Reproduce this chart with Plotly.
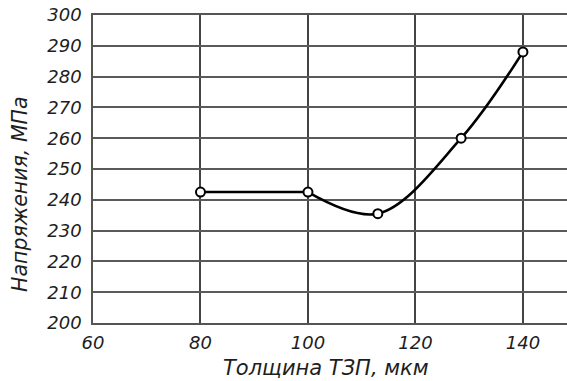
import plotly.graph_objects as go

# Coating thickness (µm) and measured stress (MPa)
thickness = [80, 100, 113, 128.5, 140]
stress = [242.5, 242.5, 235.5, 260, 288]

x_ticks = [60, 80, 100, 120, 140]
y_ticks = [200, 210, 220, 230, 240, 250, 260, 270, 280, 290, 300]

font_family = "DejaVu Sans, sans-serif"
text_color = "#1e1e1e"

fig = go.Figure()

# flat segment between the first two points
fig.add_trace(go.Scatter(
    x=thickness[:2], y=stress[:2], mode="lines",
    line=dict(color="black", width=2.5), hoverinfo="skip", showlegend=False,
))
# smooth curve through the remaining points
fig.add_trace(go.Scatter(
    x=thickness[1:], y=stress[1:], mode="lines",
    line=dict(color="black", width=2.5, shape="spline", smoothing=1),
    hoverinfo="skip", showlegend=False,
))
# measurement points
fig.add_trace(go.Scatter(
    x=thickness, y=stress, mode="markers",
    marker=dict(symbol="circle", size=9, color="white",
                line=dict(color="black", width=2)),
    showlegend=False,
))

fig.update_layout(
    width=567, height=381,
    margin=dict(l=93, r=0, t=15, b=58),
    paper_bgcolor="white", plot_bgcolor="white",
    font=dict(family=font_family, color=text_color),
    xaxis=dict(
        range=[60, 148.2], tickvals=x_ticks, ticktext=[str(v) for v in x_ticks],
        showgrid=True, gridcolor="#444", gridwidth=1.5,
        showline=True, linecolor="#555", linewidth=1.5, mirror=True,
        ticks="", zeroline=False,
        tickfont=dict(family=font_family, size=18, style="italic", color=text_color),
        ticklabelstandoff=3,
    ),
    yaxis=dict(
        range=[200, 300], tickvals=y_ticks, ticktext=[str(v) for v in y_ticks],
        showgrid=True, gridcolor="#5a5a5a", gridwidth=2,
        showline=True, linecolor="#555", linewidth=1.5,
        ticks="", zeroline=False,
        tickfont=dict(family=font_family, size=18, style="italic", color=text_color),
        ticklabelstandoff=6,
    ),
    annotations=[
        dict(text="Толщина ТЗП, мкм", xref="paper", yref="paper",
             x=(326 - 93) / 474, y=-(368 - 323) / 308,
             showarrow=False, xanchor="center", yanchor="middle",
             font=dict(family=font_family, size=21, style="italic", color=text_color)),
        dict(text="Напряжения, МПа", xref="paper", yref="paper",
             x=-(93 - 20) / 474, y=(323 - 194) / 308, textangle=-90,
             showarrow=False, xanchor="center", yanchor="middle",
             font=dict(family=font_family, size=20.5, style="italic", color=text_color)),
    ],
)

fig.write_html("out.html")
